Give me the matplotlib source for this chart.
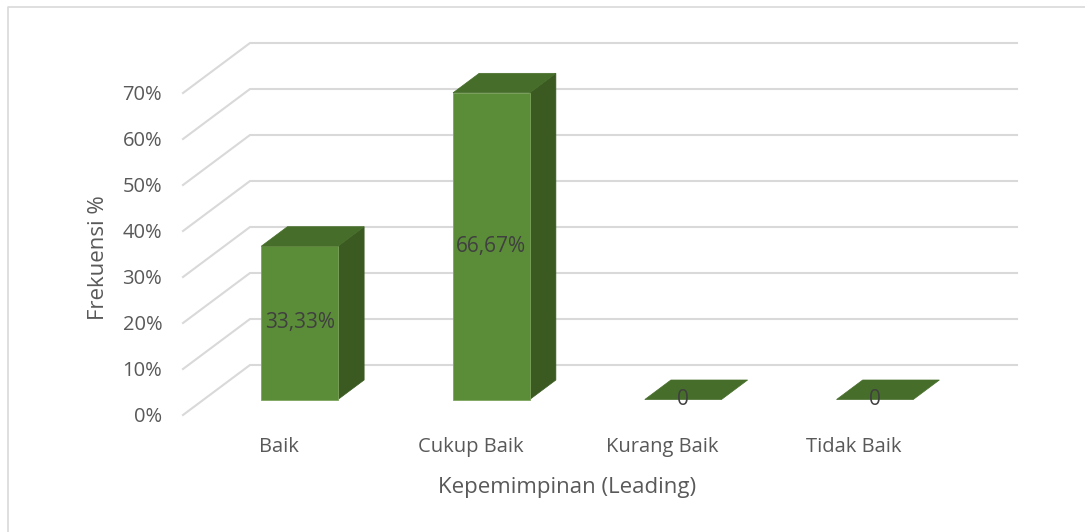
import numpy as np
import matplotlib
matplotlib.use('Agg')
import matplotlib.pyplot as plt
from matplotlib.patches import Polygon
import matplotlib.transforms as mtransforms

# 数据
categories = ['Baik', 'Cukup Baik', 'Kurang Baik', 'Tidak Baik']
values = [33.33, 66.67, 0, 0]
value_labels = ['33,33%', '66,67%', '0', '0']
yticks = [0, 10, 20, 30, 40, 50, 60, 70]

plt.rcParams['font.family'] = ['Open Sans', 'DejaVu Sans']

fig = plt.figure(figsize=(10.85, 5.32), dpi=100)
fig.patch.set_facecolor('white')
# 外框 (只有上边和左边可见)
fig.add_artist(plt.Line2D([8 / 1085, 8 / 1085, 1.0], [0.0, 1 - 7 / 532, 1 - 7 / 532],
                          transform=fig.transFigure, color='#d9d9d9', linewidth=1.2))

ax = fig.add_axes([183 / 1085, 117 / 532, 767 / 1085, 322 / 532])
ax.set_xlim(-0.5, 3.5)
ax.set_ylim(0, 70)
for s in ax.spines.values():
    s.set_visible(False)
ax.set_facecolor('none')
ax.set_xticks(range(len(categories)))
ax.set_xticklabels(categories)
ax.set_yticks(yticks)
ax.set_yticklabels([f'{t}%' for t in yticks])
ax.tick_params(axis='both', length=0, labelsize=14.5, labelcolor='#595959')
ax.tick_params(axis='y', pad=15)
ax.tick_params(axis='x', pad=16)

# 3D 深度偏移 (像素)
depth_vec = np.array([67.0, 50.0])

def pt(x, y, d):
    return ax.transData.transform((x, y)) + d * depth_vec

ident = mtransforms.IdentityTransform()

# 网格线
for t in yticks:
    pts = [pt(-0.5, t, 0), pt(-0.5, t, 1), pt(3.5, t, 1)]
    xs, ys = zip(*pts)
    ax.add_line(plt.Line2D(xs, ys, transform=ident, color='#d9d9d9', linewidth=1.5,
                           clip_on=False, zorder=1))

# 柱子
w = 0.2
d0, d1 = 0.31, 0.70
front_c, top_c, side_c = '#5b8c38', '#466d29', '#3a5a22'
for i, v in enumerate(values):
    side = [pt(i + w, 0, d0), pt(i + w, 0, d1), pt(i + w, v, d1), pt(i + w, v, d0)]
    top = [pt(i - w, v, d0), pt(i + w, v, d0), pt(i + w, v, d1), pt(i - w, v, d1)]
    front = [pt(i - w, 0, d0), pt(i + w, 0, d0), pt(i + w, v, d0), pt(i - w, v, d0)]
    if v > 0:
        ax.add_patch(Polygon(side, closed=True, transform=ident, facecolor=side_c,
                             edgecolor=side_c, linewidth=0.5, clip_on=False, zorder=2))
        ax.add_patch(Polygon(front, closed=True, transform=ident, facecolor=front_c,
                             edgecolor='#7ea55e', linewidth=0.6, clip_on=False, zorder=3))
    ax.add_patch(Polygon(top, closed=True, transform=ident, facecolor=top_c,
                         edgecolor=top_c, linewidth=0.5, clip_on=False, zorder=3))
    lx, ly = pt(i, v / 2, d0)
    ax.text(lx, ly, value_labels[i], transform=ident, ha='center', va='center',
            fontsize=15, color='#404040', zorder=5)

fig.text(98 / 1085, 1 - 258 / 532, 'Frekuensi %', rotation=90, ha='center', va='center',
         fontsize=16, color='#595959')
fig.text(567 / 1085, 1 - 487 / 532, 'Kepemimpinan (Leading)', ha='center', va='center',
         fontsize=16, color='#595959')

fig.savefig('out.png', dpi=100)
